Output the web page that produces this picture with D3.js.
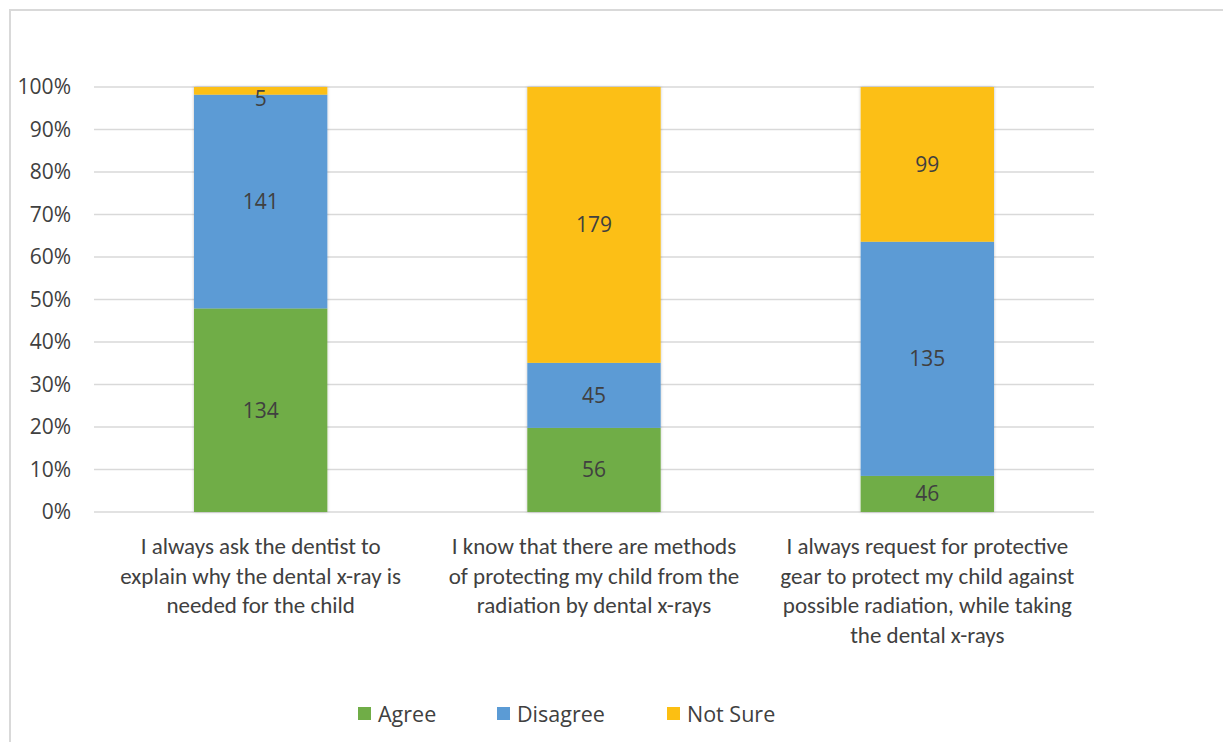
<!DOCTYPE html>
<html>
<head>
<meta charset="utf-8">
<script src="https://cdn.jsdelivr.net/npm/d3@7"></script>
<style>
  html, body { margin: 0; padding: 0; background: #fff; }
  svg { display: block; }
</style>
</head>
<body>
<svg id="chart" width="1223" height="742"></svg>
<script>
// Categories (x axis), wrapped as in the source
const categories = [
  ['I always ask the dentist to', 'explain why the dental x-ray is', 'needed for the child'],
  ['I know that there are methods', 'of protecting my child from the', 'radiation by dental x-rays'],
  ['I always request for protective', 'gear to protect my child against', 'possible radiation, while taking', 'the dental x-rays']
]
const seriesNames = ['Agree', 'Disagree', 'Not Sure']
const seriesColors = ['#70ad47', '#5b9bd5', '#fcbf12']

// Segment shares (%) as drawn in the picture
const agreePct = [47.9, 19.8, 8.5]
const disagreePct = [50.3, 15.3, 55.1]
const notSurePct = [1.8, 64.9, 36.4]

// Counts printed on the segments
const agreeCount = [134, 56, 46]
const disagreeCount = [141, 45, 135]
const notSureCount = [5, 179, 99]

const yTicks = [0, 10, 20, 30, 40, 50, 60, 70, 80, 90, 100]

const svg = d3.select('#chart')
const textColor = '#404040'
const font = 'Carlito, Calibri, "Liberation Sans Narrow", "DejaVu Sans Condensed", "Open Sans", sans-serif'

// chart frame
svg.append('rect')
  .attr('x', 10).attr('y', 10).attr('width', 1400).attr('height', 900)
  .attr('fill', 'none').attr('stroke', '#d9d9d9').attr('stroke-width', 2)

const plot = { left: 94, right: 1094, top: 87, bottom: 512 }

const x = d3.scaleBand()
  .domain(d3.range(categories.length))
  .range([plot.left, plot.right])
  .paddingInner(0.6).paddingOuter(0.3)

const y = d3.scaleLinear().domain([0, 100]).range([plot.bottom, plot.top])

// gridlines
svg.append('g')
  .selectAll('line').data(yTicks).join('line')
  .attr('x1', plot.left).attr('x2', plot.right)
  .attr('y1', d => y(d)).attr('y2', d => y(d))
  .attr('stroke', '#d9d9d9').attr('stroke-width', 1.5)

// y axis labels
svg.append('g')
  .selectAll('text').data(yTicks).join('text')
  .attr('x', 71).attr('y', d => y(d))
  .attr('dy', '0.35em')
  .attr('text-anchor', 'end')
  .attr('fill', textColor).attr('font-size', 21)
  .attr('font-family', '"Open Sans", sans-serif')
  .text(d => d + '%')

// stack
const rows = categories.map((c, i) => ({
  i,
  Agree: agreePct[i], Disagree: disagreePct[i], 'Not Sure': notSurePct[i]
}))
const counts = { Agree: agreeCount, Disagree: disagreeCount, 'Not Sure': notSureCount }
const stacked = d3.stack().keys(seriesNames)(rows)

const defs = svg.append('defs')
defs.append('filter').attr('id', 'shadow')
  .attr('x', '-10%').attr('y', '-5%').attr('width', '120%').attr('height', '110%')
  .append('feDropShadow')
  .attr('dx', 0).attr('dy', 0).attr('stdDeviation', 1.5)
  .attr('flood-color', '#000').attr('flood-opacity', 0.25)

const barsG = svg.append('g').attr('filter', 'url(#shadow)')
stacked.forEach((layer, k) => {
  barsG.append('g')
    .selectAll('rect').data(layer).join('rect')
    .attr('x', d => x(d.data.i))
    .attr('width', x.bandwidth())
    .attr('y', d => y(d[1]))
    .attr('height', d => y(d[0]) - y(d[1]))
    .attr('fill', seriesColors[k])
})

// value labels
stacked.forEach(layer => {
  svg.append('g')
    .selectAll('text').data(layer).join('text')
    .attr('x', d => x(d.data.i) + x.bandwidth() / 2)
    .attr('y', d => Math.max((y(d[0]) + y(d[1])) / 2, plot.top + 12))
    .attr('dy', '0.35em')
    .attr('text-anchor', 'middle')
    .attr('fill', textColor).attr('font-size', 21)
    .attr('font-family', '"Open Sans", sans-serif')
    .text(d => counts[layer.key][d.data.i])
})

// category labels
const catG = svg.append('g')
categories.forEach((lines, i) => {
  const t = catG.append('text')
    .attr('text-anchor', 'middle')
    .attr('fill', textColor).attr('font-size', 23)
    .attr('font-family', font)
  lines.forEach((ln, j) => {
    t.append('tspan')
      .attr('x', x(i) + x.bandwidth() / 2)
      .attr('y', 554 + j * 29.5)
      .text(ln)
  })
})

// legend
const legendX = [358, 497, 667]
const legend = svg.append('g')
seriesNames.forEach((name, k) => {
  legend.append('rect')
    .attr('x', legendX[k]).attr('y', 707)
    .attr('width', 13).attr('height', 13)
    .attr('fill', seriesColors[k])
  legend.append('text')
    .attr('x', legendX[k] + 20).attr('y', 714)
    .attr('dy', '0.35em')
    .attr('fill', textColor).attr('font-size', 21.5)
    .attr('font-family', '"Open Sans", sans-serif')
    .text(name)
})
</script>
</body>
</html>
